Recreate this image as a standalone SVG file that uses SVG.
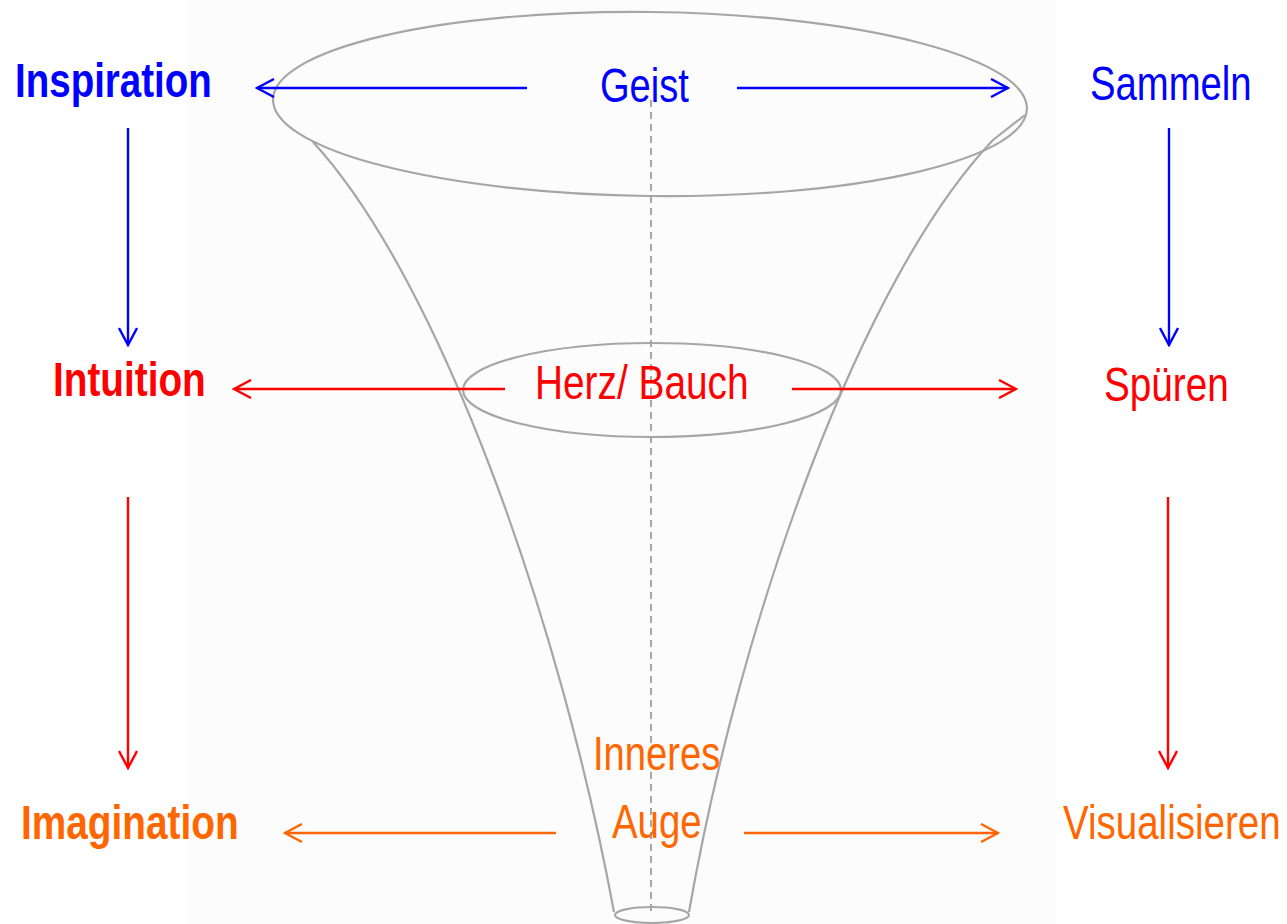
<svg xmlns="http://www.w3.org/2000/svg" width="1287" height="924" viewBox="0 0 1287 924">
<defs>
<style>
.funnel{fill:none;stroke:#a6a6a6;stroke-width:2.2}
.axis{fill:none;stroke:#a6a6a6;stroke-width:2;stroke-dasharray:7 5}
.t{font-family:"Liberation Sans",Arial,sans-serif;font-size:48px}
.b{font-weight:bold}
.blue{fill:#0000ff}
.red{fill:#ff0000}
.orange{fill:#ff6600}
.cb{stroke:#0000ff;stroke-width:2.4;fill:none}
.cr{stroke:#ff0000;stroke-width:2.4;fill:none}
.co{stroke:#ff6600;stroke-width:2.4;fill:none}
</style>
<marker id="ab" viewBox="0 0 20 20" refX="18" refY="10" markerWidth="20" markerHeight="20" markerUnits="userSpaceOnUse" orient="auto"><path d="M1,1 L18,10 L1,19" fill="none" stroke="#0000ff" stroke-width="2.4"/></marker>
<marker id="ar" viewBox="0 0 20 20" refX="18" refY="10" markerWidth="20" markerHeight="20" markerUnits="userSpaceOnUse" orient="auto"><path d="M1,1 L18,10 L1,19" fill="none" stroke="#ff0000" stroke-width="2.4"/></marker>
<marker id="ao" viewBox="0 0 20 20" refX="18" refY="10" markerWidth="20" markerHeight="20" markerUnits="userSpaceOnUse" orient="auto"><path d="M1,1 L18,10 L1,19" fill="none" stroke="#ff6600" stroke-width="2.4"/></marker>
</defs>
<rect x="0" y="0" width="1287" height="924" fill="#ffffff"/>
<rect x="187" y="0" width="870" height="924" fill="#fcfcfc"/>
<g id="funnel">
<ellipse class="funnel" cx="650" cy="104" rx="377" ry="92" transform="rotate(0.7 650 104)"/>
<path class="funnel" d="M313,142 C440,280 560,620 614,912"/>
<path class="funnel" d="M1025,115 L993,140 C860,280 740,620 689,912"/>
<ellipse class="funnel" cx="652" cy="390" rx="189" ry="47"/>
<ellipse class="funnel" cx="652" cy="915" rx="37" ry="8"/>
<line class="axis" x1="651" y1="100" x2="651" y2="912"/>
</g>
<g id="connectors">
<line class="cb" x1="527" y1="88" x2="257" y2="88" marker-end="url(#ab)"/>
<line class="cb" x1="737" y1="88" x2="1008" y2="88" marker-end="url(#ab)"/>
<line class="cb" x1="128" y1="128" x2="128" y2="345" marker-end="url(#ab)"/>
<line class="cb" x1="1169" y1="128" x2="1169" y2="345" marker-end="url(#ab)"/>
<line class="cr" x1="505" y1="389" x2="234" y2="389" marker-end="url(#ar)"/>
<line class="cr" x1="792" y1="389" x2="1016" y2="389" marker-end="url(#ar)"/>
<line class="cr" x1="128" y1="497" x2="128" y2="768" marker-end="url(#ar)"/>
<line class="cr" x1="1168" y1="497" x2="1168" y2="768" marker-end="url(#ar)"/>
<line class="co" x1="556" y1="833" x2="285" y2="833" marker-end="url(#ao)"/>
<line class="co" x1="744" y1="833" x2="998" y2="833" marker-end="url(#ao)"/>
</g>
<g id="inspiration" transform="translate(15 97) scale(0.8 1)"><text class="t b blue" x="0" y="0" textLength="246" lengthAdjust="spacingAndGlyphs">Inspiration</text></g>
<g id="geist" transform="translate(600 102) scale(0.8 1)"><text class="t blue" x="0" y="0" textLength="111" lengthAdjust="spacingAndGlyphs">Geist</text></g>
<g id="sammeln" transform="translate(1090 100) scale(0.8 1)"><text class="t blue" x="0" y="0" textLength="202" lengthAdjust="spacingAndGlyphs">Sammeln</text></g>
<g id="intuition" transform="translate(53 396) scale(0.8 1)"><text class="t b red" x="0" y="0" textLength="191" lengthAdjust="spacingAndGlyphs">Intuition</text></g>
<g id="herz" transform="translate(535 399) scale(0.8 1)"><text class="t red" x="0" y="0" textLength="267" lengthAdjust="spacingAndGlyphs">Herz/ Bauch</text></g>
<g id="spueren" transform="translate(1104 401) scale(0.8 1)"><text class="t red" x="0" y="0" textLength="156" lengthAdjust="spacingAndGlyphs">Spüren</text></g>
<g id="imagination" transform="translate(21 839) scale(0.8 1)"><text class="t b orange" x="0" y="0" textLength="272" lengthAdjust="spacingAndGlyphs">Imagination</text></g>
<g id="inneres-auge"><text class="t orange" transform="translate(593 770) scale(0.8 1)" x="0" y="0" textLength="159" lengthAdjust="spacingAndGlyphs">Inneres</text><text class="t orange" transform="translate(612 838) scale(0.8 1)" x="0" y="0" textLength="112" lengthAdjust="spacingAndGlyphs">Auge</text></g>
<g id="visualisieren" transform="translate(1063 839) scale(0.8 1)"><text class="t orange" x="0" y="0" textLength="272" lengthAdjust="spacingAndGlyphs">Visualisieren</text></g>
</svg>
